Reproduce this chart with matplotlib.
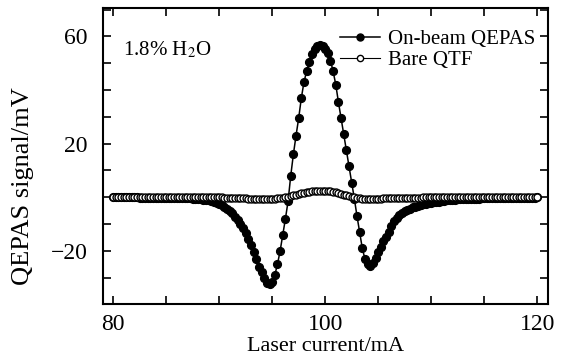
import matplotlib
matplotlib.use("Agg")
import matplotlib.pyplot as plt
import numpy as np
from matplotlib.ticker import MultipleLocator

# laser current grid, 0.25 mA step from 80 to 120 mA
current = np.linspace(80, 120, 161)

# on-beam QEPAS signal (mV)
on_beam = [
    # 80.00 - 84.75
    0.0, 0.0, 0.0, 0.0, 0.0, 0.0, 0.0, 0.0, 0.0, 0.0,
    -0.1, -0.1, -0.1, -0.1, -0.1, -0.1, -0.1, -0.1, -0.1, -0.1,
    # 85.00 - 89.75
    -0.1, -0.1, -0.2, -0.2, -0.2, -0.2, -0.3, -0.3, -0.4, -0.4,
    -0.5, -0.6, -0.7, -0.8, -0.9, -1.0, -1.1, -1.3, -1.6, -2.0,
    # 90.00 - 94.75
    -2.4, -2.9, -3.5, -4.2, -5.0, -6.0, -7.2, -8.5, -10.0, -11.5,
    -13.5, -15.5, -18.0, -20.5, -23.0, -26.0, -28.0, -30.0, -32.0, -32.5,
    # 95.00 - 99.75
    -31.5, -29.0, -25.0, -20.0, -14.0, -8.0, -1.5, 8.0, 16.0, 23.0,
    29.5, 37.0, 43.0, 47.0, 50.5, 53.3, 55.2, 56.3, 56.9, 56.4,
    # 100.00 - 104.75
    55.5, 53.8, 51.0, 47.0, 42.0, 35.5, 29.5, 23.5, 17.5, 11.5,
    5.5, -0.5, -7.0, -13.0, -19.0, -23.0, -25.0, -25.6, -24.5, -22.5,
    # 105.00 - 109.75
    -20.5, -18.5, -16.5, -14.8, -12.8, -10.8, -9.0, -7.8, -6.8, -6.0,
    -5.2, -4.7, -4.2, -3.8, -3.5, -3.2, -2.9, -2.6, -2.4, -2.2,
    # 110.00 - 114.75
    -2.0, -1.9, -1.7, -1.6, -1.5, -1.4, -1.2, -1.1, -1.0, -0.9,
    -0.8, -0.8, -0.7, -0.7, -0.6, -0.6, -0.5, -0.5, -0.5, -0.4,
    # 115.00 - 119.75
    -0.4, -0.4, -0.3, -0.3, -0.3, -0.3, -0.2, -0.2, -0.2, -0.2,
    -0.2, -0.2, -0.1, -0.1, -0.1, -0.1, -0.1, -0.1, -0.1, -0.1,
    # 120.00
    0.0,
]

# bare QTF signal (mV)
bare_qtf = [
    # 80.00 - 89.75
    0.0, 0.0, 0.0, 0.0, 0.0, 0.0, 0.0, 0.0, 0.0, 0.0,
    0.0, 0.0, 0.0, 0.0, 0.0, 0.0, 0.0, 0.0, 0.0, 0.0,
    0.0, 0.0, 0.0, 0.0, 0.0, 0.0, 0.0, 0.0, 0.0, 0.0,
    0.0, 0.0, 0.0, 0.0, 0.0, 0.0, 0.0, 0.0, 0.0, 0.0,
    # 90.00 - 94.75
    0.0, 0.0, -0.1, -0.1, -0.1, -0.2, -0.2, -0.3, -0.3, -0.4,
    -0.4, -0.5, -0.5, -0.5, -0.6, -0.6, -0.6, -0.6, -0.6, -0.6,
    # 95.00 - 99.75
    -0.6, -0.5, -0.4, -0.3, -0.3, 0.0, 0.2, 0.5, 0.7, 1.0,
    1.2, 1.5, 1.7, 1.9, 2.1, 2.3, 2.4, 2.5, 2.5, 2.5,
    # 100.00 - 104.75
    2.4, 2.3, 2.2, 2.0, 1.8, 1.6, 1.3, 1.0, 0.7, 0.5,
    0.2, 0.0, -0.2, -0.4, -0.5, -0.6, -0.6, -0.6, -0.6, -0.6,
    # 105.00 - 109.75
    -0.5, -0.5, -0.4, -0.4, -0.3, -0.3, -0.3, -0.2, -0.2, -0.2,
    -0.1, -0.1, -0.1, -0.1, -0.1, -0.1, -0.1, 0.0, 0.0, 0.0,
    # 110.00 - 119.75
    0.0, 0.0, 0.0, 0.0, 0.0, 0.0, 0.0, 0.0, 0.0, 0.0,
    0.0, 0.0, 0.0, 0.0, 0.0, 0.0, 0.0, 0.0, 0.0, 0.0,
    0.0, 0.0, 0.0, 0.0, 0.0, 0.0, 0.0, 0.0, 0.0, 0.0,
    0.0, 0.0, 0.0, 0.0, 0.0, 0.0, 0.0, 0.0, 0.0, 0.0,
    # 120.00
    0.0,
]

plt.rcParams["font.family"] = ["Liberation Serif", "DejaVu Serif"]
plt.rcParams["mathtext.fontset"] = "stix"

fig = plt.figure(figsize=(5.73, 3.62), dpi=100)
ax = fig.add_axes([0.179, 0.159, 0.777, 0.818])

ax.plot(current, on_beam, "-o", color="black", lw=1.1, ms=5.6,
        mfc="black", mec="black", label="On-beam QEPAS", zorder=3)
ax.plot(current, bare_qtf, "-o", color="black", lw=0.8, ms=5.0,
        mfc="white", mec="black", mew=1.0, label="Bare QTF", zorder=4)

ax.set_xlim(79, 121)
ax.set_ylim(-40, 70.5)
ax.xaxis.set_major_locator(MultipleLocator(20))
ax.xaxis.set_minor_locator(MultipleLocator(5))
ax.yaxis.set_major_locator(MultipleLocator(40))
ax.yaxis.set_minor_locator(MultipleLocator(10))
ax.set_yticks([-20, 20, 60])
ax.set_yticklabels(["\u221220", "20", "60"])
ax.tick_params(which="both", direction="in", top=True, right=True,
               length=6, width=1.2, labelsize=17)
ax.tick_params(axis="x", pad=7)
ax.tick_params(axis="y", pad=11)

for sp in ax.spines.values():
    sp.set_linewidth(1.5)

ax.set_xlabel("Laser current/mA", fontsize=16, labelpad=1)
ax.set_ylabel("QEPAS signal/mV", fontsize=19)
ax.yaxis.set_label_coords(-0.155, 0.40)

ax.text(0.045, 0.84, "1.8% H$_2$O", transform=ax.transAxes, fontsize=15)

ax.legend(loc="upper right", frameon=False, fontsize=15, handlelength=1.9,
          handletextpad=0.4, labelspacing=0.05, borderaxespad=0.2,
          bbox_to_anchor=(1.0, 0.97), markerscale=0.9)

fig.savefig("out.png", dpi=100)
